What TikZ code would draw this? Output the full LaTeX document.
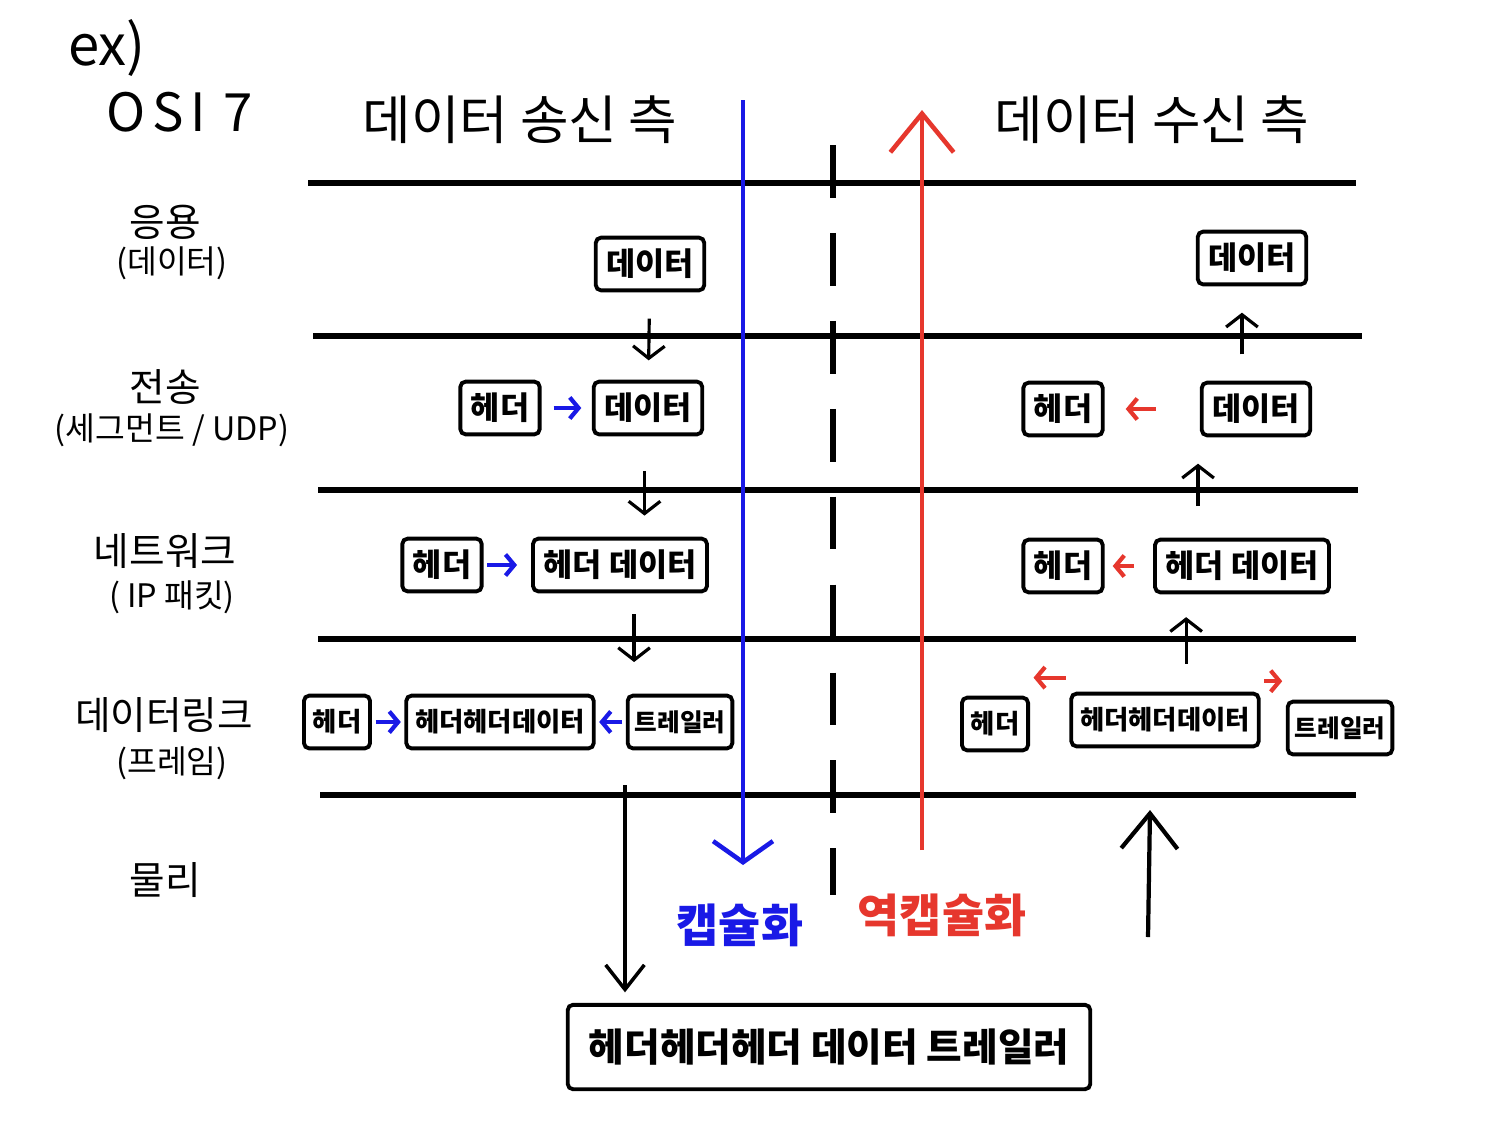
\documentclass[tikz,border=0pt]{standalone}
\usepackage{fontspec}
\setmainfont{Noto Sans CJK KR}
\usetikzlibrary{arrows.meta}
\definecolor{encblue}{RGB}{25,25,230}
\definecolor{decred}{RGB}{230,55,45}

\begin{document}
\begin{tikzpicture}[x=0.01cm, y=-0.01cm,
    layerline/.style={line width=1.5pt},
    pdu/.style={draw, line width=1.1pt, rounded corners=1.5pt, inner xsep=3pt, inner ysep=0pt,
        minimum height=15pt, font=\bfseries\fontsize{9}{9}\selectfont},
    dlpdu/.style={pdu, inner xsep=2.5pt, font=\bfseries\fontsize{7.5}{7.5}\selectfont},
    trlpdu/.style={pdu, inner xsep=2pt, font=\bfseries\fontsize{7}{7}\selectfont},
    stepflow/.style={line width=0.9pt, -{Straight Barb[length=3.5pt,width=9pt]}},
    addhdr/.style={encblue, line width=1.2pt, -{Straight Barb[length=2.5pt,width=6pt]},
        shorten <=1pt, shorten >=1pt},
    striphdr/.style={addhdr, decred},
    bigflow/.style={line width=1.2pt, -{Straight Barb[length=6pt,width=17pt]}},
    layername/.style={font=\fontsize{11}{11}\selectfont},
    layerunit/.style={font=\fontsize{9.2}{9.2}\selectfont},
    sidetitle/.style={font=\fontsize{15}{15}\selectfont},
]
    \useasboundingbox (0,0) rectangle (1510,1124);

    % 제목
    \node[font=\fontsize{16}{16}\selectfont] (ex) at (107,48) {ex)};
    \node[font=\fontsize{15}{15}\selectfont\addfontfeature{LetterSpace=12}] (osi) at (180,112) {OSI 7};
    \node[sidetitle] (send-title) at (520,120) {데이터 송신 측};
    \node[sidetitle] (recv-title) at (1152,120) {데이터 수신 측};

    % 계층 구분선
    \draw[layerline] (308,183) -- (1356,183);
    \draw[layerline] (313,336) -- (1362,336);
    \draw[layerline] (318,490) -- (1358,490);
    \draw[layerline] (318,639) -- (1356,639);
    \draw[layerline] (320,795) -- (1356,795);

    % 송신 측 / 수신 측 사이 점선
    \draw[line width=1.5pt, dash pattern=on 15pt off 10pt] (833,145) -- (833,895);

    % 계층 이름
    \node[layername] (app-name) at (165,222) {응용};
    \node[layerunit] (app-unit) at (172,263) {(데이터)};
    \node[layername] (tr-name) at (165,387) {전송};
    \node[layerunit] (tr-unit) at (172,430) {(세그먼트 / UDP)};
    \node[layername] (nw-name) at (165,551) {네트워크};
    \node[layerunit] (nw-unit) at (172,597) {( IP 패킷)};
    \node[layername] (dl-name) at (164,715) {데이터링크};
    \node[layerunit] (dl-unit) at (172,763) {(프레임)};
    \node[layername] (ph-name) at (165,880) {물리};

    % 송신 측 - 응용
    \node[pdu] (sd-app) at (650,264) {데이터};

    % 송신 측 - 전송
    \node[pdu] (sd-tr-hdr) at (500,408) {헤더};
    \node[pdu] (sd-tr-data) at (648,408) {데이터};
    \draw[addhdr, shorten <=3.4pt, shorten >=3pt] (sd-tr-hdr) -- (sd-tr-data);
    \draw[stepflow, shorten <=7.5pt, shorten >=5.5pt] (sd-app) -- (sd-tr-data);

    % 송신 측 - 네트워크
    \node[pdu] (sd-nw-hdr) at (442,565) {헤더};
    \node[pdu] (sd-nw-data) at (620,565) {헤더 데이터};
    \draw[addhdr, shorten >=4pt] (sd-nw-hdr) -- (sd-nw-data);
    \draw[stepflow, shorten <=10pt, shorten >=6pt] ([xshift=-1pt]sd-tr-data.south)
        -- ([xshift=-1pt]sd-tr-data.south |- sd-nw-data.north);

    % 송신 측 - 데이터링크
    \node[dlpdu] (sd-dl-hdr) at (337,722) {헤더};
    \node[dlpdu] (sd-dl-frame) at (500,722) {헤더헤더데이터};
    \node[trlpdu] (sd-dl-trl) at (680,722) {트레일러};
    \draw[addhdr] (sd-dl-hdr) -- (sd-dl-frame);
    \draw[addhdr] (sd-dl-trl) -- (sd-dl-frame);
    \draw[stepflow, shorten <=6pt, shorten >=9pt] ([xshift=4pt]sd-nw-data.south)
        -- ([xshift=4pt]sd-nw-data.south |- sd-dl-frame.north);

    % 수신 측 - 응용
    \node[pdu] (rc-app) at (1252,258) {데이터};

    % 수신 측 - 전송
    \node[pdu] (rc-tr-hdr) at (1063,409) {헤더};
    \node[pdu] (rc-tr-data) at (1256,409) {데이터};
    \draw[striphdr, shorten <=12.5pt, shorten >=6pt] (rc-tr-data) -- (rc-tr-hdr);
    \draw[stepflow, shorten <=7.5pt, shorten >=7.5pt] ([xshift=-4pt]rc-tr-data.north)
        -- ([xshift=-4pt]rc-tr-data.north |- rc-app.south);

    % 수신 측 - 네트워크
    \node[pdu] (rc-nw-hdr) at (1063,566) {헤더};
    \node[pdu] (rc-nw-data) at (1242,566) {헤더 데이터};
    \draw[striphdr, shorten <=5.4pt, shorten >=2.3pt] (rc-nw-data) -- (rc-nw-hdr);
    \draw[stepflow, shorten <=9pt, shorten >=7.5pt] ([xshift=-12.5pt]rc-nw-data.north)
        -- ([xshift=-12.5pt]rc-nw-data.north |- rc-tr-data.south);

    % 수신 측 - 데이터링크
    \node[dlpdu] (rc-dl-hdr) at (995,724) {헤더};
    \node[dlpdu] (rc-dl-frame) at (1165,720) {헤더헤더데이터};
    \node[trlpdu] (rc-dl-trl) at (1340,728) {트레일러};
    \draw[striphdr] ([yshift=4pt]rc-dl-frame.north west)
        -- ([yshift=4pt]rc-dl-frame.north west -| rc-dl-hdr.east);
    \draw[striphdr] ([yshift=3pt]rc-dl-frame.north east)
        -- ([yshift=3pt]rc-dl-frame.north east -| rc-dl-trl.west);
    \draw[stepflow, shorten <=8pt, shorten >=6.5pt] ([xshift=6pt]rc-dl-frame.north)
        -- ([xshift=6pt]rc-dl-frame.north |- rc-nw-data.south);

    % 물리 계층으로 보내는 프레임
    \node[pdu, font=\bfseries\fontsize{11}{11}\selectfont, inner xsep=6pt, minimum height=24pt]
        (wire) at (829,1047) {헤더헤더헤더 데이터 트레일러};
    \coordinate (frame-out) at (625,785);
    \draw[line width=1pt, -{Straight Barb[length=7pt,width=11pt]}, shorten >=3pt]
        (frame-out) -- (wire.north -| frame-out);

    % 수신 측으로 올라가는 프레임
    \coordinate (wire-in) at (1148,937);
    \coordinate (rc-frame-in) at (1150,810);
    \draw[bigflow, -{Straight Barb[length=10pt,width=16pt]}] (wire-in) -- (rc-frame-in);

    % 캡슐화 화살표
    \coordinate (enc-top) at (743,100);
    \coordinate (enc-end) at (743,865);
    \draw[bigflow, encblue, line width=1.3pt] (enc-top) -- (enc-end);
    \node[encblue, font=\bfseries\fontsize{13}{13}\selectfont] (enc-label) at (740,925) {캡슐화};

    % 역캡슐화 화살표
    \coordinate (dec-start) at (922,850);
    \coordinate (dec-top) at (922,110);
    \draw[bigflow, decred, line width=1.3pt, -{Straight Barb[length=11pt,width=18pt]}] (dec-start) -- (dec-top);
    \node[decred, font=\bfseries\fontsize{13}{13}\selectfont] (dec-label) at (942,915) {역캡슐화};
\end{tikzpicture}
\end{document}
